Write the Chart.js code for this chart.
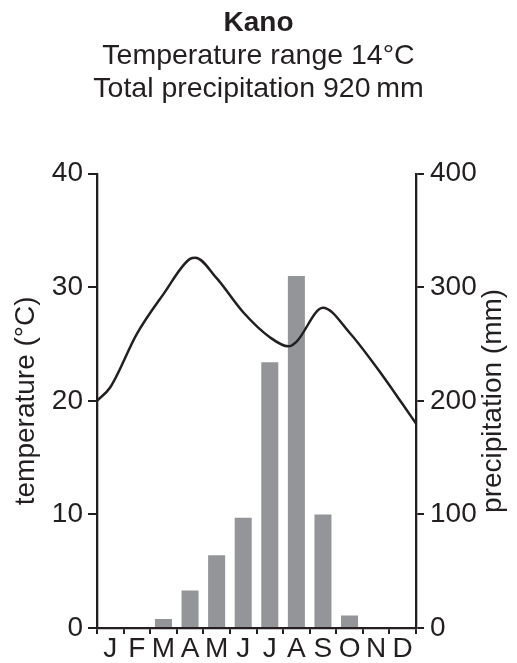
<!DOCTYPE html>
<html lang="en">
<head>
<meta charset="UTF-8">
<title>Kano climate chart</title>
<script src="https://cdn.jsdelivr.net/npm/chart.js"></script>
<style>
  html, body { margin: 0; padding: 0; background: #fff; }
  #wrap { width: 517px; height: 663px; }
</style>
</head>
<body>
<div id="wrap"><canvas id="kanoChart"></canvas></div>
<script>
// month initials along the bottom
const months = ['J', 'F', 'M', 'A', 'M', 'J', 'J', 'A', 'S', 'O', 'N', 'D'];
// monthly precipitation (mm), right axis
const precipitation = [0, 0, 8, 33, 64, 97, 234, 310, 100, 11, 0, 0];
// temperature curve, read at the axis edges, mid-months and the turning points (x in months)
const tempX = [0, 0.5, 1.5, 2.5, 3.5, 3.7, 4.5, 5.5, 6.5, 7.2, 7.5, 8.5, 9.5, 10.5, 11.5, 12];
const temperature = [20.0, 21.2, 25.9, 29.4, 32.5, 32.6, 30.8, 27.8, 25.6, 24.8, 25.2, 28.2, 26.0, 23.0, 19.7, 18.0];
// axis ranges
const tempTicks = [0, 10, 20, 30, 40];
const precipTicks = [0, 100, 200, 300, 400];

const ink = '#231f20';
const fam = '"Liberation Sans", Arial, Helvetica, sans-serif';

// right axis title reads bottom-to-top like the left one
const rightTitle = {
    id: 'rightTitle',
    afterDraw(chart) {
        const s = chart.scales.y1;
        const a = chart.chartArea;
        const ctx = chart.ctx;
        ctx.save();
        ctx.translate(s.right - 24, (a.top + a.bottom) / 2);
        ctx.rotate(-Math.PI / 2);
        ctx.font = '28px ' + fam;
        ctx.fillStyle = ink;
        ctx.textAlign = 'center';
        ctx.textBaseline = 'middle';
        ctx.fillText('precipitation (mm)', 0, 0);
        ctx.restore();
    }
};

const ctx = document.getElementById('kanoChart').getContext('2d');
new Chart(ctx, {
    type: 'bar',
    data: {
        labels: months,
        datasets: [{
            type: 'line',
            label: 'Temperature',
            data: tempX.map((x, i) => ({ x: x, y: temperature[i] })),
            xAxisID: 'xLine',
            yAxisID: 'y',
            borderColor: ink,
            borderWidth: 2.5,
            pointRadius: 0,
            cubicInterpolationMode: 'monotone',
            order: 0
        }, {
            label: 'Precipitation',
            data: precipitation,
            xAxisID: 'x',
            yAxisID: 'y1',
            backgroundColor: '#939598',
            grouped: false,
            categoryPercentage: 0.8,
            barPercentage: 0.8,
            order: 1
        }]
    },
    options: {
        responsive: true,
        maintainAspectRatio: false,
        animation: false,
        layout: { padding: 0 },
        plugins: {
            legend: { display: false },
            tooltip: { enabled: false },
            title: {
                display: true,
                text: 'Kano',
                color: ink,
                font: { family: fam, size: 28, weight: 'bold' },
                padding: { top: 6, bottom: 0 }
            },
            subtitle: {
                display: true,
                text: ['Temperature range 14°C', 'Total precipitation 920\u2009mm'],
                color: ink,
                font: { family: fam, size: 28.5, lineHeight: 1.16 },
                padding: { top: 0, bottom: 68 }
            }
        },
        scales: {
            x: {
                type: 'category',
                offset: true,
                afterFit: (s) => { s.height = 35; },
                grid: { offset: true, drawOnChartArea: false, tickLength: 6, color: ink, lineWidth: 2 },
                border: { display: true, color: ink, width: 2.3 },
                ticks: { color: ink, font: { family: fam, size: 28 }, padding: -2, autoSkip: false, maxRotation: 0 }
            },
            xLine: {
                type: 'linear',
                offset: false,
                min: 0,
                max: 12,
                display: false
            },
            y: {
                position: 'left',
                min: tempTicks[0],
                max: tempTicks[tempTicks.length - 1],
                afterFit: (s) => { s.width = 97; },
                grid: { drawOnChartArea: false, tickLength: 9, color: ink, lineWidth: 2 },
                border: { display: true, color: ink, width: 2.3 },
                ticks: { stepSize: 10, color: ink, padding: 5, font: { family: fam, size: 28 } },
                title: {
                    display: true,
                    text: 'temperature (°C)',
                    color: ink,
                    font: { family: fam, size: 28 },
                    padding: { top: 9, bottom: 0 }
                }
            },
            y1: {
                position: 'right',
                min: precipTicks[0],
                max: precipTicks[precipTicks.length - 1],
                afterFit: (s) => { s.width = 101; },
                grid: { drawOnChartArea: false, tickLength: 8, color: ink, lineWidth: 2 },
                border: { display: true, color: ink, width: 2.3 },
                ticks: { stepSize: 100, color: ink, padding: 6, font: { family: fam, size: 28 } }
            }
        }
    },
    plugins: [rightTitle]
});
</script>
</body>
</html>
